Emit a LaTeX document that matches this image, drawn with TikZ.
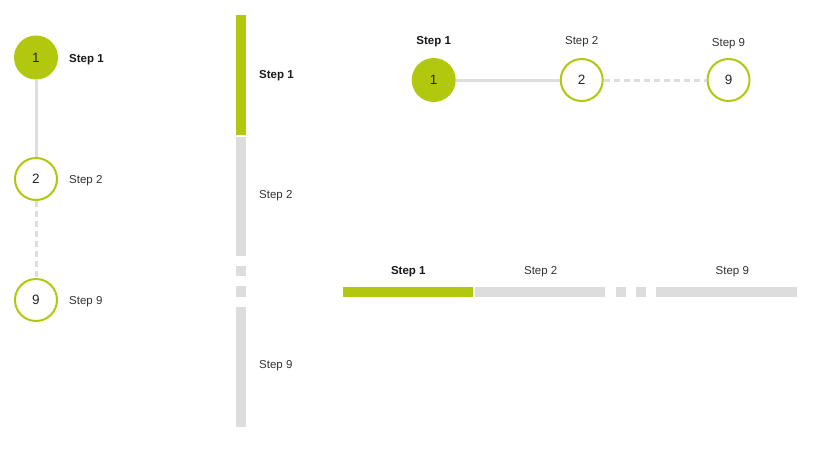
\documentclass[tikz,border=0pt]{standalone}
\usepackage{fontspec}
\setmainfont{Liberation Sans}
\definecolor{stepgreen}{HTML}{B2C80F}
\definecolor{steprule}{HTML}{DDDDDD}
\definecolor{steptext}{HTML}{333333}
\tikzset{
  stepdone/.style={circle, fill=stepgreen, draw=stepgreen, line width=2pt, minimum size=42pt, inner sep=0pt, font=\fontsize{13.5}{15}\selectfont, text=black!85},
  steptodo/.style={circle, fill=white, draw=stepgreen, line width=2pt, minimum size=42pt, inner sep=0pt, font=\fontsize{13.5}{15}\selectfont, text=black!85},
  lblactive/.style={font=\bfseries\fontsize{11.5}{13}\selectfont, text=black!90, inner sep=0pt},
  lbl/.style={font=\fontsize{11.5}{13}\selectfont, text=steptext, inner sep=0pt},
  solidlink/.style={draw=steprule, line width=3pt},
  dashlink/.style={draw=steprule, line width=3pt, dash pattern=on 6pt off 4pt},
  barfill/.style={fill=steprule},
  baractive/.style={fill=stepgreen}
}
\begin{document}
\begin{tikzpicture}[x=1pt,y=-1pt]
\useasboundingbox[fill=white] (0,0) rectangle (827,453);
% left vertical stepper
\node[stepdone] (v1) at (36,57.5) {1};
\node[steptodo] (v2) at (36,179) {2};
\node[steptodo] (v9) at (36,300) {9};
\draw[solidlink] (v1) -- (v2);
\draw[dashlink] (v2) -- (v9);
\node[lblactive, anchor=west] (vl1) at (69,59.5) {Step 1};
\node[lbl, anchor=west] (vl2) at (69,181) {Step 2};
\node[lbl, anchor=west] (vl9) at (69,301.5) {Step 9};
% vertical bar stepper
\fill[baractive] (236,15) rectangle (246,135);
\fill[barfill] (236,137) rectangle (246,256);
\fill[barfill] (236,266) rectangle (246,276);
\fill[barfill] (236,286) rectangle (246,297);
\fill[barfill] (236,307) rectangle (246,427);
\node[lblactive, anchor=west] (bl1) at (259,75.5) {Step 1};
\node[lbl, anchor=west] (bl2) at (259,196) {Step 2};
\node[lbl, anchor=west] (bl9) at (259,366) {Step 9};
% horizontal stepper
\node[stepdone] (h1) at (433.7,80) {1};
\node[steptodo] (h2) at (581.7,80) {2};
\node[steptodo] (h9) at (728.5,80) {9};
\draw[solidlink] (h1) -- (h2);
\draw[dashlink] (h2) -- (h9);
\node[lblactive] (hl1) at (433.7,42) {Step 1};
\node[lbl] (hl2) at (581.7,41.5) {Step 2};
\node[lbl] (hl9) at (728.5,44) {Step 9};
% horizontal bar stepper
\fill[baractive] (343,287) rectangle (473,297);
\fill[barfill] (475,287) rectangle (605,297);
\fill[barfill] (616,287) rectangle (626,297);
\fill[barfill] (636,287) rectangle (646,297);
\fill[barfill] (656,287) rectangle (797,297);
\node[lblactive] (bh1) at (408.3,271.5) {Step 1};
\node[lbl] (bh2) at (540.7,271.5) {Step 2};
\node[lbl] (bh9) at (732.3,271.5) {Step 9};
\end{tikzpicture}
\end{document}
